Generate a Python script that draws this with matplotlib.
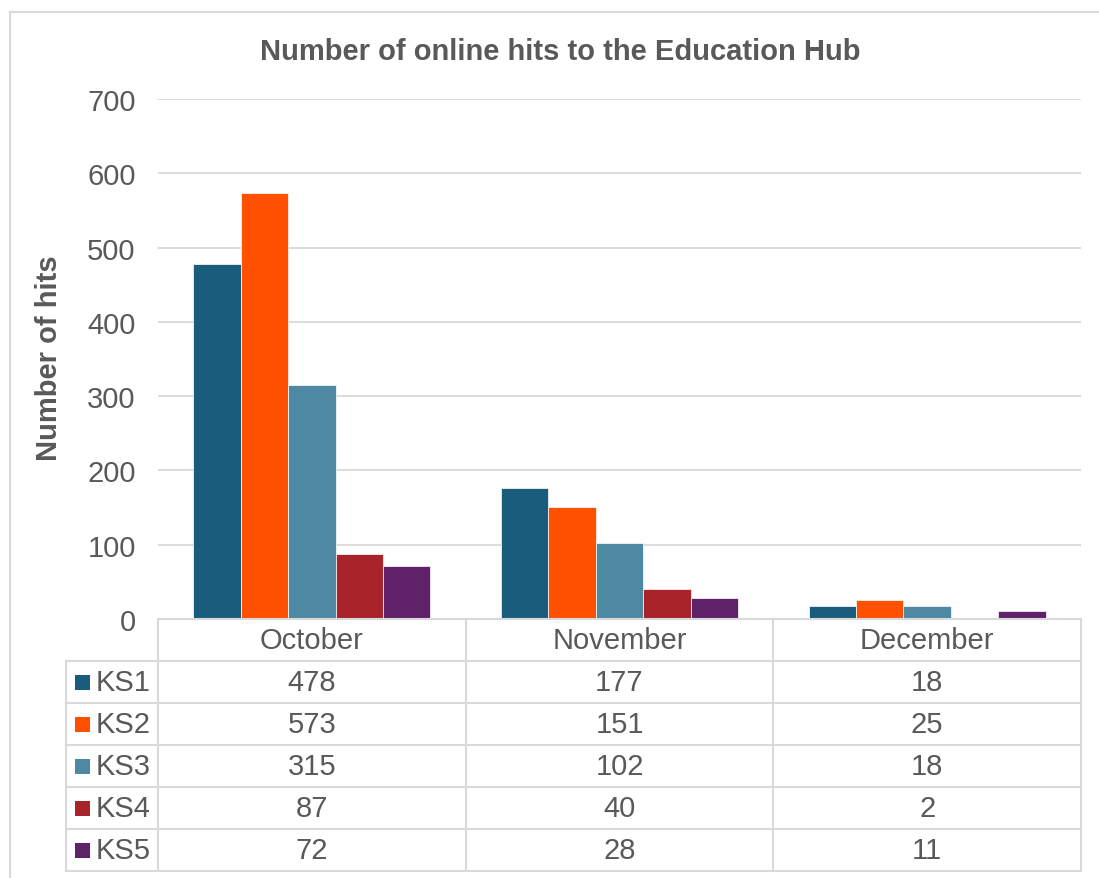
import matplotlib.pyplot as plt
import numpy as np
from matplotlib.patches import Rectangle
from matplotlib.lines import Line2D

plt.rcParams['font.family'] = ['Liberation Sans', 'DejaVu Sans']

months = ['October', 'November', 'December']
stages = ['KS1', 'KS2', 'KS3', 'KS4', 'KS5']
ks1 = [478, 177, 18]
ks2 = [573, 151, 25]
ks3 = [315, 102, 18]
ks4 = [87, 40, 2]
ks5 = [72, 28, 11]
series = [ks1, ks2, ks3, ks4, ks5]
colors = ['#1a5c7c', '#ff5000', '#4e89a3', '#a8232a', '#5f2167']

text_col = '#595959'
line_col = '#d9d9d9'
fs = 21

W, H = 1099, 879
fig = plt.figure(figsize=(W / 100, H / 100), dpi=100)

# plot area in pixels
px_l, px_r, px_t, px_b = 158, 1081, 100, 620
ax = fig.add_axes([px_l / W, 1 - px_b / H, (px_r - px_l) / W, (px_b - px_t) / H])

x = np.arange(len(months))
bw = 0.154
for i, (name, vals) in enumerate(zip(stages, series)):
    ax.bar(x + (i - 2) * bw, vals, width=bw, color=colors[i],
           edgecolor='white', linewidth=0.5, zorder=3, label=name)

ax.set_xlim(-0.5, 2.5)
ax.set_ylim(0, 700)
ax.set_yticks(range(0, 701, 100))
ax.tick_params(axis='y', length=0, pad=16, labelsize=fs, labelcolor=text_col)
ax.tick_params(axis='x', length=0, labelbottom=False)
ax.grid(axis='y', color=line_col, linewidth=1.3, zorder=0)
for s in ax.spines.values():
    s.set_visible(False)

ax.set_ylabel('Number of hits', fontsize=fs, fontweight='bold', color=text_col)
ax.yaxis.set_label_coords((63 - px_l) / (px_r - px_l), (px_b - 358) / (px_b - px_t))
fig.text(560 / W, 1 - 52 / H, 'Number of online hits to the Education Hub',
         fontsize=fs, fontweight='bold', color=text_col, ha='center', va='center')

# data table under the bars, columns aligned to the categories
span = (px_r - px_l) / 3.0
def fx(v):
    # category units -> figure fraction
    return (px_l + (v + 0.5) * span) / W

def fy(py):
    return 1 - py / H

row_h = 42
tab_top = 620
rows_y = [tab_top + row_h * k for k in range(7)]
leg_left = 66

lw = 1.5
# horizontal lines
fig.add_artist(Line2D([fx(-0.5), fx(2.5)], [fy(tab_top)] * 2, color=line_col, lw=lw))
for k in range(1, 7):
    fig.add_artist(Line2D([leg_left / W, fx(2.5)], [fy(rows_y[k])] * 2, color=line_col, lw=lw))
# vertical lines
fig.add_artist(Line2D([leg_left / W] * 2, [fy(rows_y[1]), fy(rows_y[6])], color=line_col, lw=lw))
for v in [-0.5, 0.5, 1.5, 2.5]:
    fig.add_artist(Line2D([fx(v)] * 2, [fy(tab_top), fy(rows_y[6])], color=line_col, lw=lw))

for j, m in enumerate(months):
    fig.text(fx(j), fy(tab_top + row_h / 2), m, fontsize=fs, color=text_col,
             ha='center', va='center')

for i, (name, vals) in enumerate(zip(stages, series)):
    yc = fy(rows_y[i + 1] + row_h / 2)
    fig.add_artist(Rectangle((75 / W, yc - 7.5 / H), 15 / W, 15 / H,
                             facecolor=colors[i], edgecolor='none'))
    fig.text(96 / W, yc, name, fontsize=fs, color=text_col, ha='left', va='center')
    for j, v in enumerate(vals):
        fig.text(fx(j), yc, str(v), fontsize=fs, color=text_col, ha='center', va='center')

# chart frame
fig.add_artist(Line2D([10 / W, 1.0], [fy(13)] * 2, color=line_col, lw=1.5))
fig.add_artist(Line2D([10 / W] * 2, [fy(13), 0.0], color=line_col, lw=1.5))

fig.savefig('out.png', dpi=100)
